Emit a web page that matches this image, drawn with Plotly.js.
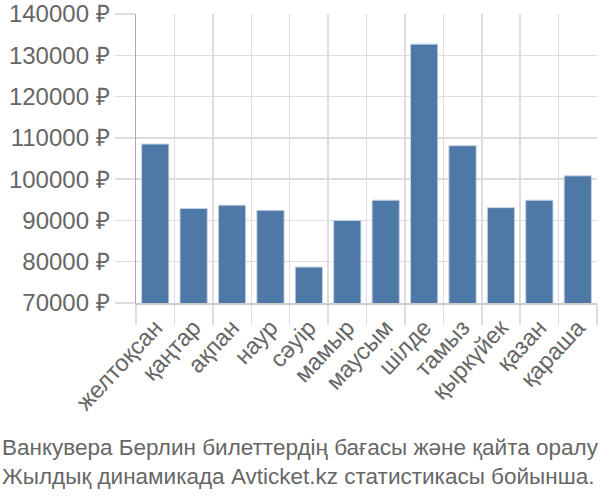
<!DOCTYPE html>
<html>
<head>
<meta charset="utf-8">
<script src="https://cdn.plot.ly/plotly-3.0.1.min.js"></script>
<style>html,body{margin:0;padding:0;background:#fff;}#chart{width:600px;height:500px;}</style>
</head>
<body>
<div id="chart"></div>
<script>
var months = ["желтоқсан","қаңтар","ақпан","наур","сәуір","мамыр","маусым","шілде","тамыз","қыркүйек","қазан","қараша"];
var prices = [108500, 92900, 93700, 92450, 78700, 90000, 94900, 132700, 108100, 93100, 94900, 100800];
var tickValues = [70000, 80000, 90000, 100000, 110000, 120000, 130000, 140000];
var titleLines = ["Ванкувера Берлин билеттердің бағасы және қайта оралу", "Жылдық динамикада Avticket.kz статистикасы бойынша."];

var trace = {
  type: "bar",
  x: months,
  y: prices,
  marker: {color: "#4e79a7", line: {color: "#c5d3e3", width: 1}},
  hoverinfo: "none"
};
var layout = {
  width: 600, height: 500,
  margin: {l: 136, r: 3, t: 14, b: 197},
  paper_bgcolor: "#fff", plot_bgcolor: "#fff",
  bargap: 0.29,
  font: {family: "Liberation Sans, Arial, sans-serif", color: "#666"},
  xaxis: {
    type: "category",
    tickangle: -47,
    tickson: "boundaries",
    ticks: "outside", ticklen: 20, tickcolor: "#ddd", tickwidth: 1.5,
    showgrid: true, gridcolor: "#ddd", gridwidth: 1.5,
    showline: true, linecolor: "#ccc", linewidth: 1.5,
    tickfont: {size: 23.5, color: "#666"}
  },
  yaxis: {
    range: [70000, 140000],
    tickvals: tickValues,
    ticktext: tickValues.map(function(v){return v + " ₽";}),
    ticks: "outside", ticklen: 20, tickcolor: "#ddd", tickwidth: 1.5,
    showgrid: true, gridcolor: "#ddd", gridwidth: 1.5,
    showline: true, linecolor: "#aaa", linewidth: 1.5,
    zeroline: false,
    tickfont: {size: 24, color: "#666"}
  },
  annotations: [{
    xref: "paper", yref: "paper", x: -136/461, y: 0, xanchor: "left", yanchor: "top",
    yshift: -130, align: "left", showarrow: false,
    text: titleLines.join("<br>"),
    font: {size: 22.5, color: "#666"}
  }]
};
Plotly.newPlot("chart", [trace], layout, {staticPlot: true});
</script>
</body>
</html>
